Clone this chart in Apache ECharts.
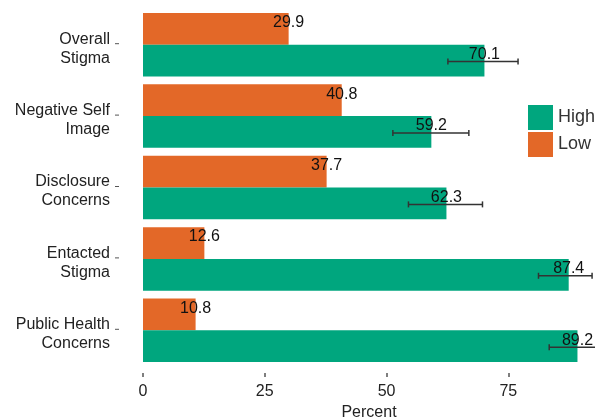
<!DOCTYPE html>
<html>
<head>
<meta charset="utf-8">
<script src="https://cdn.jsdelivr.net/npm/echarts@6/dist/echarts.min.js"></script>
<style>html,body{margin:0;padding:0;background:#fff;}#c{width:595px;height:418px;}</style>
</head>
<body>
<div id="c"></div>
<script>
const categories = ['Overall\nStigma', 'Negative Self\nImage', 'Disclosure\nConcerns', 'Entacted\nStigma', 'Public Health\nConcerns'];
const highValues = [70.1, 59.2, 62.3, 87.4, 89.2];
const lowValues = [29.9, 40.8, 37.7, 12.6, 10.8];
const highErrLower = [62.6, 51.3, 54.5, 81.2, 83.4];
const highErrUpper = [77.0, 66.9, 69.7, 92.2, 95.0];
const xTicks = [0, 25, 50, 75];

const GREEN = '#00A67E';
const ORANGE = '#E36828';
const catGap = 0.11;
const FONT = '"Liberation Sans", Arial, sans-serif';
const TXT = '#222';

const chart = echarts.init(document.getElementById('c'), null, {renderer: 'canvas'});

const valueLabel = {
  show: true,
  position: ['100%', '50%'],
  align: 'center',
  verticalAlign: 'middle',
  offset: [0, -6],
  color: '#111',
  fontSize: 16,
  fontFamily: FONT,
  formatter: p => p.value.toFixed(1)
};

chart.setOption({
  animation: false,
  backgroundColor: '#fff',
  grid: {left: 143, top: 9, width: 452, height: 357, containLabel: false, outerBoundsMode: 'none'},
  legend: {
    orient: 'vertical',
    left: 523, top: 100,
    itemWidth: 25, itemHeight: 25, itemGap: 2,
    icon: 'rect',
    data: ['High', 'Low'],
    textStyle: {fontSize: 18, color: '#333', fontFamily: FONT}
  },
  xAxis: {
    type: 'value',
    min: 0, max: 92.8, interval: 25,
    offset: 7,
    name: 'Percent',
    nameLocation: 'middle',
    nameGap: 31,
    nameTextStyle: {fontSize: 16, color: TXT, fontFamily: FONT},
    axisLine: {show: false},
    axisTick: {show: true, length: 4, lineStyle: {color: '#555', width: 1.5}},
    axisLabel: {
      fontSize: 16, color: TXT, fontFamily: FONT, margin: 11,
      showMaxLabel: false,
      formatter: v => (xTicks.indexOf(v) >= 0 ? String(v) : '')
    },
    splitLine: {show: false}
  },
  yAxis: {
    type: 'category',
    inverse: true,
    data: categories,
    axisLine: {show: false},
    axisTick: {show: false},
    axisLabel: {show: false}
  },
  series: [
    {
      name: 'Low', type: 'bar', data: lowValues,
      barCategoryGap: (catGap * 100) + '%', barGap: '0%',
      itemStyle: {color: ORANGE},
      label: valueLabel, z: 2
    },
    {
      name: 'High', type: 'bar', data: highValues,
      barCategoryGap: (catGap * 100) + '%', barGap: '0%',
      itemStyle: {color: GREEN},
      label: valueLabel, z: 2
    },
    {
      name: 'err', type: 'custom',
      clip: false, z: 5,
      data: highErrLower.map((lo, i) => [i, lo, highErrUpper[i]]),
      encode: {y: 0, x: [1, 2]},
      renderItem: function (params, api) {
        const idx = api.value(0);
        const p1 = api.coord([api.value(1), idx]);
        const p2 = api.coord([api.value(2), idx]);
        const band = api.size([0, 1])[1];
        const barH = band * (1 - catGap) / 2;
        const y = p1[1] + barH / 2 + 1;
        const cap = 3;
        const style = {stroke: '#333', lineWidth: 1.5};
        return {
          type: 'group',
          children: [
            {type: 'line', shape: {x1: p1[0], y1: y, x2: p2[0], y2: y}, style: style},
            {type: 'line', shape: {x1: p1[0], y1: y - cap, x2: p1[0], y2: y + cap}, style: style},
            {type: 'line', shape: {x1: p2[0], y1: y - cap, x2: p2[0], y2: y + cap}, style: style}
          ]
        };
      }
    },
    {
      name: 'catLabels', type: 'custom',
      clip: false, z: 5, silent: true,
      data: categories.map((c, i) => [0, i]),
      encode: {x: 0, y: 1},
      renderItem: function (params, api) {
        const idx = api.value(1);
        const p = api.coord([0, idx]);
        const xr = p[0] - 24;
        return {
          type: 'group',
          children: [
            {type: 'text', style: {
              x: xr - 9, y: p[1] + 4, text: categories[idx],
              align: 'right', verticalAlign: 'middle',
              fontSize: 16, fontFamily: FONT, fill: TXT, lineHeight: 19
            }},
            {type: 'line', shape: {x1: xr - 4, y1: p[1] - 1, x2: xr, y2: p[1] - 1},
              style: {stroke: '#555', lineWidth: 1}}
          ]
        };
      }
    }
  ]
});
</script>
</body>
</html>
